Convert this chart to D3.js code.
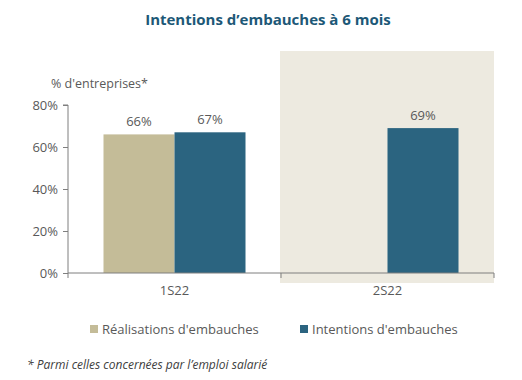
<!DOCTYPE html>
<html><head><meta charset="utf-8">
<script src="https://cdn.jsdelivr.net/npm/d3@7"></script>
<style>
body{margin:0;background:#fff;}
text{font-family:"Open Sans","Noto Sans",sans-serif;}
</style></head>
<body><svg id="c" width="522" height="380"></svg>
<script>
const categories = ["1S22", "2S22"];
const seriesNames = ["Réalisations d'embauches", "Intentions d'embauches"];
const realisations = [66, null];
const intentions = [67, 69];
const yTicks = [0, 20, 40, 60, 80];
const colors = ["#c4bc98", "#2b6480"];

(function () {
const svg = d3.select("#c");
const pLeft = 68, pRight = 494, pTop = 105, pBottom = 273;
const x = d3.scaleBand().domain(categories).range([pLeft, pRight]).paddingInner(0).paddingOuter(0);
const xs = d3.scaleBand().domain(seriesNames).range([0, x.bandwidth()]).paddingInner(0).paddingOuter(0.5);
const y = d3.scaleLinear().domain([0, 80]).range([pBottom, pTop]);

// shaded forecast area
svg.append("rect").attr("x", x("2S22") - 1).attr("y", 51)
  .attr("width", x.bandwidth() + 1).attr("height", 232).attr("fill", "#edeae0");

// title
svg.append("text").attr("x", 268).attr("y", 25).attr("text-anchor", "middle")
  .attr("font-size", 15).attr("font-weight", "bold").attr("fill", "#1d5877")
  .text("Intentions d’embauches à 6 mois");

svg.append("text").attr("x", 51).attr("y", 88).attr("font-size", 12.5).attr("fill", "#595959")
  .text("% d'entreprises*");

// y axis
const yAxis = d3.axisLeft(y).tickValues(yTicks).tickFormat(d => d + "%").tickSize(5).tickPadding(5);
const gy = svg.append("g").attr("transform", `translate(${pLeft},0)`).call(yAxis);
gy.select(".domain").attr("stroke", "#7f7f7f").attr("d", `M-5,${pTop}H0V${pBottom}`);
gy.selectAll(".tick line").attr("stroke", "#7f7f7f");
gy.selectAll(".tick text").attr("font-size", 13).attr("fill", "#595959")
  .attr("font-family", "'Open Sans',sans-serif");

// bars
const data = [];
categories.forEach((c, i) => {
  if (realisations[i] != null) data.push({c, s: seriesNames[0], v: realisations[i], col: colors[0]});
  if (intentions[i] != null) data.push({c, s: seriesNames[1], v: intentions[i], col: colors[1]});
});
svg.selectAll("rect.bar").data(data).join("rect").attr("class", "bar")
  .attr("x", d => x(d.c) + xs(d.s)).attr("width", xs.bandwidth())
  .attr("y", d => y(d.v)).attr("height", d => y(0) - y(d.v)).attr("fill", d => d.col);
svg.selectAll("text.lbl").data(data).join("text").attr("class", "lbl")
  .attr("x", d => x(d.c) + xs(d.s) + xs.bandwidth() / 2).attr("y", d => y(d.v) - 8)
  .attr("text-anchor", "middle").attr("font-size", 13).attr("fill", "#595959")
  .text(d => d.v + "%");

// x axis
const xAxis = d3.axisBottom(x).tickSize(0).tickPadding(13);
const gx = svg.append("g").attr("transform", `translate(0,${pBottom})`).call(xAxis);
gx.select(".domain").attr("stroke", "#7f7f7f").attr("d", `M${pLeft},0H${pRight}`);
gx.selectAll(".tick text").attr("font-size", 13).attr("fill", "#595959")
  .attr("font-family", "'Open Sans',sans-serif");
const bounds = [pLeft, x("2S22"), pRight];
gx.selectAll("line.sep").data(bounds).join("line").attr("class", "sep")
  .attr("x1", d => d).attr("x2", d => d).attr("y1", 0).attr("y2", 5).attr("stroke", "#7f7f7f");

// legend
const legX = [90, 300];
const lg = svg.selectAll("g.leg").data(seriesNames).join("g").attr("class", "leg")
  .attr("transform", (d, i) => `translate(${legX[i]},329)`);
lg.append("rect").attr("x", 0).attr("y", -4).attr("width", 8).attr("height", 8)
  .attr("fill", (d, i) => colors[i]);
lg.append("text").attr("x", 12).attr("y", 5).attr("font-size", 13).attr("fill", "#595959").text(d => d);

svg.append("text").attr("x", 27).attr("y", 369).attr("font-size", 12).attr("font-style", "italic")
  .attr("fill", "#404040").text("* Parmi celles concernées par l’emploi salarié");
})();
</script></body></html>
